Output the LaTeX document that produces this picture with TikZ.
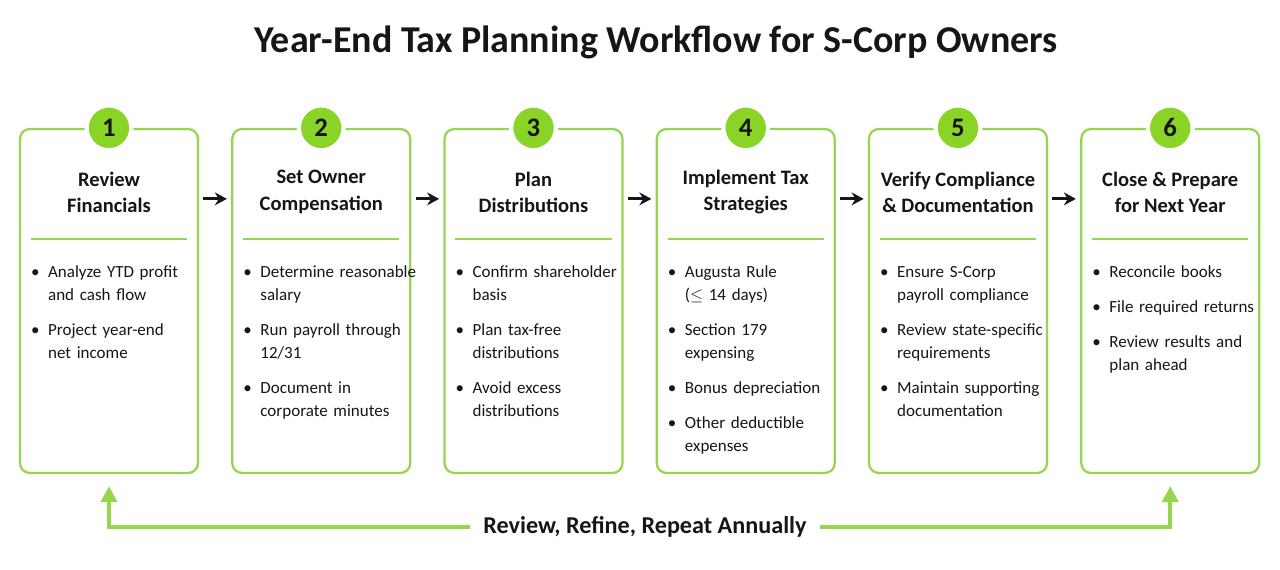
\documentclass[tikz,border=0pt]{standalone}
\usepackage{fontspec}
\setmainfont{Carlito}
\usetikzlibrary{arrows.meta, positioning, calc}
\definecolor{lime}{RGB}{150,214,78}
\definecolor{limefill}{RGB}{138,212,40}
\definecolor{ink}{RGB}{22,22,22}
\newcommand{\bitem}[1]{\par\noindent\hyphenpenalty=10000\relax\hangindent=1em\hangafter=1\makebox[1em][l]{\textbullet}#1\par}
\tikzset{
  stage/.style ={rectangle, rounded corners=7pt, draw=lime, line width=1.6pt, fill=white,
                 minimum width=4.45cm, minimum height=8.6cm},
  num/.style   ={circle, fill=limefill, draw=white, line width=3pt, minimum size=1.12cm,
                 text=ink, font=\fontsize{19}{19}\selectfont\bfseries},
  head/.style  ={align=center, text=ink, font=\fontsize{14.6}{18.5}\selectfont\bfseries},
  items/.style ={text width=5cm, align=left, inner sep=0pt, text=ink,
                 font=\fontsize{12.1}{16.4}\selectfont\setlength{\parskip}{8.5pt}},
  sep/.style   ={draw=lime, line width=1.1pt},
  ar/.style    ={-{Stealth[length=3mm,width=3.2mm]}, draw=ink, line width=2.2pt},
  fb/.style    ={-{Triangle[length=4mm,width=4mm]}, draw=lime, line width=2.8pt},
}
\begin{document}
\begin{tikzpicture}
\useasboundingbox[fill=white] (0,0) rectangle (32,-14.225);
\node[text=ink, font=\fontsize{27}{30}\selectfont\bfseries] (title) at (16.4,-1.05)
  {Year-End Tax Planning Workflow for S-Corp Owners};

% stages
\node[stage] (b1) at (2.725,-7.525) {};
\node[stage, right=0.8cm of b1] (b2) {};
\node[stage, right=0.8cm of b2] (b3) {};
\node[stage, right=0.8cm of b3] (b4) {};
\node[stage, right=0.8cm of b4] (b5) {};
\node[stage, right=0.8cm of b5] (b6) {};

\foreach \i in {1,...,6}{
  \node[num] (n\i) at (b\i.north) {\i};
  \draw[sep] ([xshift=0.3cm,yshift=-2.775cm]b\i.north west) -- ([xshift=-0.3cm,yshift=-2.775cm]b\i.north east);
}

\node[head] (t1) at ([yshift=-1.6cm]b1.north) {Review\\Financials};
\node[head] (t2) at ([yshift=-1.6cm]b2.north) {Set Owner\\Compensation};
\node[head] (t3) at ([yshift=-1.6cm]b3.north) {Plan\\Distributions};
\node[head] (t4) at ([yshift=-1.6cm]b4.north) {Implement Tax\\Strategies};
\node[head] (t5) at ([yshift=-1.6cm]b5.north) {Verify Compliance\\\& Documentation};
\node[head] (t6) at ([yshift=-1.6cm]b6.north) {Close \& Prepare\\for Next Year};

\node[items, anchor=north west] (l1) at ([xshift=0.3cm,yshift=-2.86cm]b1.north west)
  {\bitem{Analyze YTD profit\newline and cash flow}\bitem{Project year-end\newline net income}};
\node[items, anchor=north west] (l2) at ([xshift=0.3cm,yshift=-2.86cm]b2.north west)
  {\bitem{Determine reasonable\newline salary}\bitem{Run payroll through\newline 12/31}\bitem{Document in\newline corporate minutes}};
\node[items, anchor=north west] (l3) at ([xshift=0.3cm,yshift=-2.86cm]b3.north west)
  {\bitem{Confirm shareholder\newline basis}\bitem{Plan tax-free\newline distributions}\bitem{Avoid excess\newline distributions}};
\node[items, anchor=north west] (l4) at ([xshift=0.3cm,yshift=-2.86cm]b4.north west)
  {\bitem{Augusta Rule\newline ($\leq$ 14 days)}\bitem{Section 179\newline expensing}\bitem{Bonus depreciation}\bitem{Other deductible\newline expenses}};
\node[items, anchor=north west] (l5) at ([xshift=0.3cm,yshift=-2.86cm]b5.north west)
  {\bitem{Ensure S-Corp\newline payroll compliance}\bitem{Review state-specific\newline requirements}\bitem{Maintain supporting\newline documentation}};
\node[items, anchor=north west] (l6) at ([xshift=0.3cm,yshift=-2.86cm]b6.north west)
  {\bitem{Reconcile books}\bitem{File required returns}\bitem{Review results and\newline plan ahead}};

% flow arrows
\draw[ar] ([xshift=3pt,yshift=-1.775cm]b1.north east) -- ([xshift=-3pt,yshift=-1.775cm]b2.north west);
\draw[ar] ([xshift=3pt,yshift=-1.775cm]b2.north east) -- ([xshift=-3pt,yshift=-1.775cm]b3.north west);
\draw[ar] ([xshift=3pt,yshift=-1.775cm]b3.north east) -- ([xshift=-3pt,yshift=-1.775cm]b4.north west);
\draw[ar] ([xshift=3pt,yshift=-1.775cm]b4.north east) -- ([xshift=-3pt,yshift=-1.775cm]b5.north west);
\draw[ar] ([xshift=3pt,yshift=-1.775cm]b5.north east) -- ([xshift=-3pt,yshift=-1.775cm]b6.north west);

% feedback loop
\node[text=ink, inner xsep=0.33cm, font=\fontsize{17.2}{20}\selectfont\bfseries] (loop) at (16.125,-13.175)
  {Review, Refine, Repeat Annually};
\draw[fb] (loop.west) -| ([yshift=-0.3cm]b1.south);
\draw[fb] (loop.east) -| ([yshift=-0.3cm]b6.south);
\end{tikzpicture}
\end{document}
